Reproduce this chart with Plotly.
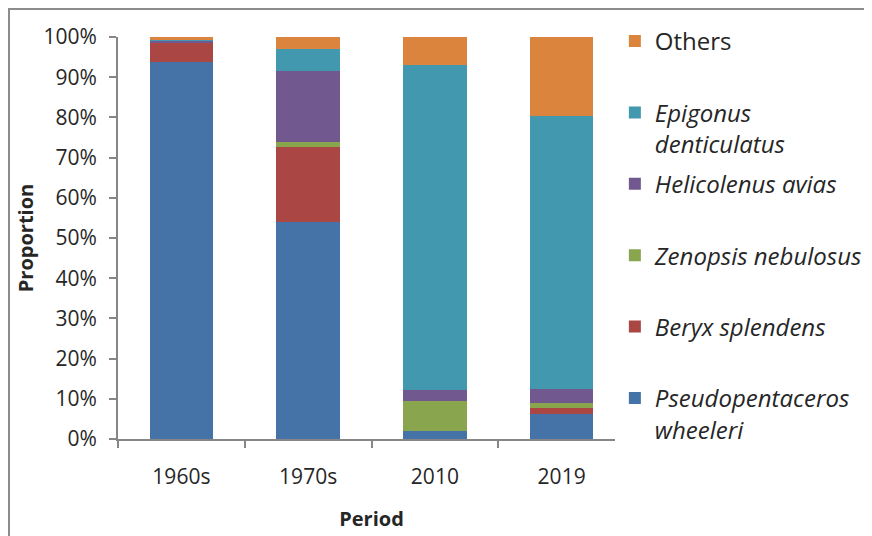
import plotly.graph_objects as go

periods = ["1960s", "1970s", "2010", "2019"]

# proportion (%) per species
pseudopentaceros = [93.8, 54.0, 2.1, 6.2]
beryx = [4.8, 18.6, 0.0, 1.4]
zenopsis = [0.1, 1.4, 7.4, 1.3]
helicolenus = [0.4, 17.6, 2.8, 3.5]
epigonus = [0.2, 5.4, 80.7, 67.9]
others = [0.7, 3.0, 7.0, 19.7]

series = [
    ("<i>Pseudopentaceros</i><br><i>wheeleri</i>", pseudopentaceros, "#4572A7"),
    ("<i>Beryx splendens</i><br> ", beryx, "#AA4643"),
    ("<i>Zenopsis nebulosus</i><br> ", zenopsis, "#89A54E"),
    ("<i>Helicolenus avias</i><br> ", helicolenus, "#71588F"),
    ("<i>Epigonus</i><br><i>denticulatus</i>", epigonus, "#4198AF"),
    ("Others<br> ", others, "#DB843D"),
]

font_family = "Open Sans"

fig = go.Figure()
for i, (name, vals, col) in enumerate(series):
    fig.add_trace(go.Bar(x=periods, y=[v / 100 for v in vals], name=name,
                         marker=dict(color=col, line=dict(width=0)),
                         legendgroup=str(i), legendrank=100 - i))

# page has an 8px body margin, so the figure is a bit smaller than the window
W, H = 864, 528
L, T = 110, 29
R, B = W - 617, H - 431.5
plot_w = W - L - R

axis_col = "#868686"
fig.update_layout(
    barmode="stack",
    bargap=0.5,
    width=W, height=H,
    margin=dict(l=L, r=R, t=T, b=B, autoexpand=False),
    plot_bgcolor="white", paper_bgcolor="white",
    font=dict(family=font_family, size=21, color="#262626"),
    showlegend=True,
    legend=dict(traceorder="grouped", x=0.98, xanchor="left", y=1.045, yanchor="top",
                valign="top", tracegroupgap=6, itemwidth=30, maxheight=520,
                font=dict(family=font_family, size=24, color="#262626")),
    xaxis=dict(title=dict(text="<b>Period</b>", standoff=23, font=dict(size=20)),
               showline=True, linecolor=axis_col, linewidth=2, automargin=False,
               ticks="outside", tickson="boundaries", ticklen=7, tickcolor=axis_col,
               tickwidth=2, ticklabelstandoff=18, showgrid=False),
    yaxis=dict(title=dict(text="<b>Proportion</b>", standoff=4, font=dict(size=20)),
               range=[0, 1], dtick=0.1, tickformat=".0%", automargin=False,
               showline=True, linecolor=axis_col, linewidth=2,
               ticks="outside", ticklen=7, tickcolor=axis_col, tickwidth=2,
               ticklabelstandoff=8, showgrid=False, zeroline=False),
    shapes=[dict(type="rect", xref="paper", yref="paper",
                 x0=-(L - 1) / plot_w, x1=1.6, y0=-0.6, y1=1 + (T - 1) / 402.5,
                 line=dict(color="#8c8c8c", width=2), layer="below")],
)

fig.write_html("out.html")
